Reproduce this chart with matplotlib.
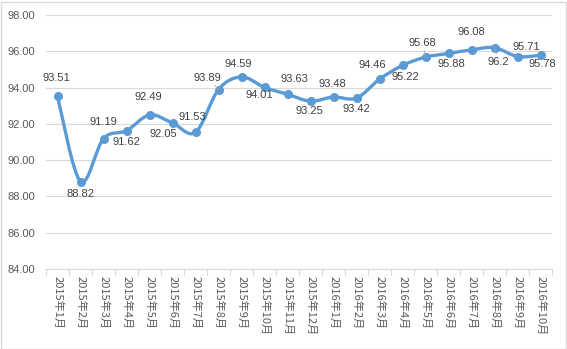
import matplotlib
matplotlib.use("Agg")
import matplotlib.pyplot as plt
from matplotlib.path import Path
from matplotlib.patches import PathPatch, Rectangle
import numpy as np

months = ["2015年1月", "2015年2月", "2015年3月", "2015年4月", "2015年5月", "2015年6月",
          "2015年7月", "2015年8月", "2015年9月", "2015年10月", "2015年11月", "2015年12月",
          "2016年1月", "2016年2月", "2016年3月", "2016年4月", "2016年5月", "2016年6月",
          "2016年7月", "2016年8月", "2016年9月", "2016年10月"]
values = [93.51, 88.82, 91.19, 91.62, 92.49, 92.05, 91.53, 93.89, 94.59, 94.01, 93.63,
          93.25, 93.48, 93.42, 94.46, 95.22, 95.68, 95.88, 96.08, 96.2, 95.71, 95.78]
value_labels = ["93.51", "88.82", "91.19", "91.62", "92.49", "92.05", "91.53", "93.89",
                "94.59", "94.01", "93.63", "93.25", "93.48", "93.42", "94.46", "95.22",
                "95.68", "95.88", "96.08", "96.2", "95.71", "95.78"]

# label placement (pixels from point), leader lines where the original has them
label_offsets = [(-1, 18), (0, -12), (0, 17), (0, -11), (-1, 18), (-9, -11), (-3, 15),
                 (-11, 12), (-3, 13), (-5, -8), (7, 15), (-1, -10), (-1, 13), (0, -11),
                 (-7, 14), (3, -12), (-3, 14), (3, -11), (0, 18), (4, -14), (9, 10), (2, -9)]
leaders = {6, 7, 10, 14, 16, 19}

BLUE = "#5B9BD5"
GREY = "#595959"
GRID = "#D9D9D9"

fig = plt.figure(figsize=(5.67, 3.49), dpi=100)
ax = fig.add_axes([46 / 567, 1 - 269 / 349, 506 / 567, 254 / 349])

x = np.arange(len(values))
y = np.array(values)

# smoothed line as cubic bezier segments (catmull-rom style control points)
pts = np.column_stack([x, y])
verts = [pts[0]]
codes = [Path.MOVETO]
n = len(pts)
for i in range(n - 1):
    p0 = pts[i - 1] if i > 0 else pts[i]
    p1, p2 = pts[i], pts[i + 1]
    p3 = pts[i + 2] if i + 2 < n else pts[i + 1]
    c1 = p1 + (p2 - p0) / 6
    c2 = p2 - (p3 - p1) / 6
    verts += [c1, c2, p2]
    codes += [Path.CURVE4] * 3
ax.add_patch(PathPatch(Path(verts, codes), facecolor="none", edgecolor=BLUE,
                       lw=2.4, capstyle="round", joinstyle="round", zorder=3))
ax.plot(x, y, "o", color=BLUE, ms=5.5, zorder=4)

for i, (v, lab) in enumerate(zip(values, value_labels)):
    dx, dy = label_offsets[i]
    kw = {}
    if i in leaders:
        kw["arrowprops"] = dict(arrowstyle="-", color="#A6A6A6", lw=0.6,
                                shrinkA=5, shrinkB=5)
    ax.annotate(lab, (i, v), xytext=(dx, dy), textcoords="offset pixels",
                ha="center", va="center", fontsize=8, color="#404040",
                family="Liberation Sans", zorder=5, **kw)

ax.set_xlim(-0.5, len(values) - 0.5)
ax.set_ylim(84, 98)
ax.set_yticks(np.arange(84, 98.1, 2))
ax.set_yticklabels([f"{t:.2f}" for t in np.arange(84, 98.1, 2)],
                   fontsize=8, color=GREY, family="Liberation Sans")
ax.tick_params(axis="y", length=0, pad=8)
ax.grid(axis="y", color=GRID, lw=0.8)
ax.set_axisbelow(True)

ax.set_xticks(np.arange(-0.5, len(values)), minor=False)
ax.set_xticklabels([])
ax.set_xticks(x, minor=True)
ax.set_xticklabels(months, minor=True, rotation=-90, fontsize=8, color=GREY,
                   family=["Noto Sans CJK SC", "DejaVu Sans"], va="top", ha="center")
ax.tick_params(axis="x", which="major", length=4, color=GRID, width=0.8)
ax.tick_params(axis="x", which="minor", length=0, pad=5)

for s in ["top", "right", "left"]:
    ax.spines[s].set_visible(False)
ax.spines["bottom"].set_color(GRID)
ax.spines["bottom"].set_linewidth(0.8)

fig.patches.append(Rectangle((0.5 / 567, 0.5 / 349), 1 - 2 / 567, 1 - 2 / 349,
                             transform=fig.transFigure, fill=False,
                             edgecolor=GRID, lw=1))

fig.savefig("out.png", dpi=100)
